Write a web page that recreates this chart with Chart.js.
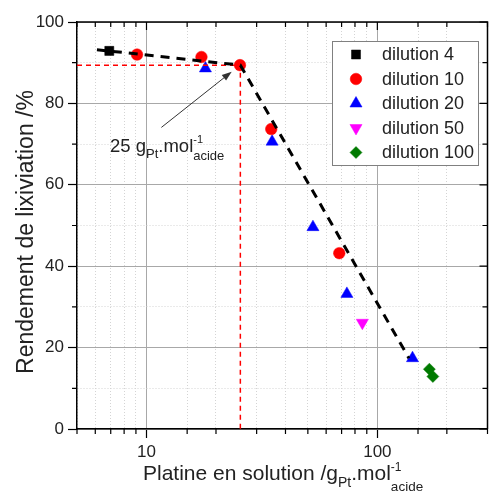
<!DOCTYPE html>
<html>
<head>
<meta charset="utf-8">
<script src="https://cdn.jsdelivr.net/npm/chart.js@4.4.0/dist/chart.umd.min.js"></script>
<style>
html, body { margin: 0; padding: 0; background: #fff; }
</style>
</head>
<body>
<canvas id="chart" width="495" height="497"></canvas>
<script>
// values
const dil4X = [6.9];
const dil4Y = [92.9];
const dil10X = [9.1, 17.3, 25.4, 34.7, 68.4];
const dil10Y = [92.0, 91.4, 89.4, 73.7, 43.2];
const dil20X = [18.0, 35.0, 52.6, 73.8, 142];
const dil20Y = [88.6, 70.6, 49.6, 33.2, 17.4];
const dil50X = [86.1];
const dil50Y = [26.1];
const dil100X = [168, 174];
const dil100Y = [14.7, 12.9];
const fitX = [6.1, 25.5, 137];
const fitY = [93.2, 89.4, 17.4];
const kneeX = 25.5;
const kneeY = 89.4;
const xMin = 5, xMax = 300;
const xTickLabels = [10, 100];
const yTickLabels = [0, 20, 40, 60, 80, 100];
const seriesNames = ['dilution 4', 'dilution 10', 'dilution 20', 'dilution 50', 'dilution 100'];

const FONT = '"Liberation Sans", Arial, sans-serif';

function pts(xs, ys) {
    return xs.map((v, i) => ({ x: v, y: ys[i] }));
}

function isMajorX(v) {
    const l = Math.log10(v);
    return Math.abs(l - Math.round(l)) < 1e-6;
}
function isMajorY(v) {
    return yTickLabels.indexOf(v) >= 0;
}

const markers = [
    { style: 'rect', radius: 6.4, rotation: 0, color: '#000000' },
    { style: 'circle', radius: 5.8, rotation: 0, color: '#ff0000' },
    { style: 'triangle', radius: 7, rotation: 0, color: '#0000ff' },
    { style: 'triangle', radius: 7, rotation: 180, color: '#ff00ff' },
    { style: 'rectRot', radius: 6, rotation: 0, color: '#007a00' }
];

function scatterSet(i, xs, ys) {
    const m = markers[i];
    return {
        type: 'scatter',
        label: seriesNames[i],
        data: pts(xs, ys),
        pointStyle: m.style,
        pointRadius: m.radius,
        rotation: m.rotation,
        backgroundColor: m.color,
        borderColor: m.color,
        borderWidth: 0.5,
        order: 2
    };
}

// rich text pieces: [text, size, baseline shift, stack]
function drawRich(ctx, parts, x, y) {
    let cx = x;
    let stackStart = null, stackW = 0;
    parts.forEach(p => {
        ctx.font = p.size + 'px ' + FONT;
        const w = ctx.measureText(p.t).width;
        if (p.stack === 'start') {
            stackStart = cx;
            ctx.fillText(p.t, cx, y + p.dy);
            stackW = w;
        } else if (p.stack === 'end') {
            ctx.fillText(p.t, stackStart, y + p.dy);
            cx = stackStart + Math.max(stackW, w);
        } else {
            ctx.fillText(p.t, cx, y + p.dy);
            cx += w;
        }
    });
    return cx - x;
}

const decor = {
    id: 'decor',
    afterDraw(chart) {
        const ctx = chart.ctx;
        const a = chart.chartArea;
        const xs = chart.scales.x, ys = chart.scales.y;
        ctx.save();

        // frame top/right
        ctx.strokeStyle = '#000';
        ctx.lineWidth = 1.5;
        ctx.beginPath();
        ctx.moveTo(a.left, a.top);
        ctx.lineTo(a.right, a.top);
        ctx.lineTo(a.right, a.bottom);
        ctx.stroke();

        // minor outward ticks and inward ticks on top/right
        ctx.lineWidth = 1.2;
        ctx.beginPath();
        xs.ticks.forEach(t => {
            const px = xs.getPixelForValue(t.value);
            const maj = isMajorX(t.value);
            if (!maj) {
                ctx.moveTo(px, a.bottom);
                ctx.lineTo(px, a.bottom + 5);
            }
            ctx.moveTo(px, a.top);
            ctx.lineTo(px, a.top + (maj ? 8 : 5));
        });
        ys.ticks.forEach(t => {
            const py = ys.getPixelForValue(t.value);
            const maj = isMajorY(t.value);
            if (!maj) {
                ctx.moveTo(a.left - 5, py);
                ctx.lineTo(a.left, py);
            }
            ctx.moveTo(a.right, py);
            ctx.lineTo(a.right - (maj ? 8 : 5), py);
        });
        ctx.stroke();

        // arrow
        const x0 = xs.getPixelForValue(11.6), y0 = ys.getPixelForValue(74.1);
        const x1 = xs.getPixelForValue(23.4), y1 = ys.getPixelForValue(87.8);
        const ang = Math.atan2(y1 - y0, x1 - x0);
        ctx.strokeStyle = '#333';
        ctx.fillStyle = '#333';
        ctx.lineWidth = 1;
        ctx.beginPath();
        ctx.moveTo(x0, y0);
        ctx.lineTo(x1 - 6 * Math.cos(ang), y1 - 6 * Math.sin(ang));
        ctx.stroke();
        ctx.beginPath();
        ctx.moveTo(x1, y1);
        ctx.lineTo(x1 - 10 * Math.cos(ang) + 3.5 * Math.sin(ang), y1 - 10 * Math.sin(ang) - 3.5 * Math.cos(ang));
        ctx.lineTo(x1 - 10 * Math.cos(ang) - 3.5 * Math.sin(ang), y1 - 10 * Math.sin(ang) + 3.5 * Math.cos(ang));
        ctx.closePath();
        ctx.fill();

        // annotation text
        ctx.fillStyle = '#222';
        ctx.textAlign = 'left';
        ctx.textBaseline = 'alphabetic';
        drawRich(ctx, [
            { t: '25 g', size: 18.5, dy: 0 },
            { t: 'Pt', size: 13, dy: 6 },
            { t: '.mol', size: 18.5, dy: 0 },
            { t: '-1', size: 11, dy: -9, stack: 'start' },
            { t: 'acide', size: 13, dy: 8, stack: 'end' }
        ], xs.getPixelForValue(6.95), ys.getPixelForValue(68.1));

        // x title
        const xParts = [
            { t: 'Platine en solution /g', size: 21, dy: 0 },
            { t: 'Pt', size: 14, dy: 7 },
            { t: '.mol', size: 21, dy: 0 },
            { t: '-1', size: 12, dy: -9, stack: 'start' },
            { t: 'acide', size: 13.5, dy: 11, stack: 'end' }
        ];
        drawRich(ctx, xParts, 143, 480);

        // y title
        ctx.save();
        ctx.translate(27, 232);
        ctx.rotate(-Math.PI / 2);
        ctx.font = '23px ' + FONT;
        ctx.textAlign = 'center';
        ctx.textBaseline = 'middle';
        ctx.fillText('Rendement de lixiviation /%', 0, 0);
        ctx.restore();

        // legend box
        const lx = 332, ly = 41, lw = 146, lh = 124;
        ctx.fillStyle = '#fff';
        ctx.fillRect(lx, ly, lw, lh);
        ctx.strokeStyle = '#808080';
        ctx.lineWidth = 1;
        ctx.strokeRect(lx + 0.5, ly + 0.5, lw, lh);
        ctx.font = '18px ' + FONT;
        ctx.textBaseline = 'middle';
        ctx.textAlign = 'left';
        seriesNames.forEach((name, i) => {
            const m = markers[i];
            const cy = ly + 13.5 + i * 24.5;
            ctx.fillStyle = m.color;
            ctx.strokeStyle = m.color;
            ctx.lineWidth = 0.5;
            Chart.helpers.drawPoint(ctx, { pointStyle: m.style, radius: m.radius, rotation: m.rotation, borderWidth: 0.5 }, 356, cy);
            ctx.fillStyle = '#222';
            ctx.fillText(name, 382, cy + 1);
        });

        ctx.restore();
    }
};

new Chart(document.getElementById('chart'), {
    data: {
        datasets: [
            {
                type: 'line',
                data: pts(fitX, fitY),
                borderColor: '#000',
                borderWidth: 3,
                borderDash: [9, 7],
                pointRadius: 0,
                fill: false,
                tension: 0,
                order: 0
            },
            {
                type: 'line',
                data: [{ x: xMin, y: kneeY }, { x: kneeX, y: kneeY }, { x: kneeX, y: 0 }],
                borderColor: '#ff0000',
                borderWidth: 1.5,
                borderDash: [5, 4],
                pointRadius: 0,
                fill: false,
                tension: 0,
                order: 1
            },
            scatterSet(0, dil4X, dil4Y),
            scatterSet(1, dil10X, dil10Y),
            scatterSet(2, dil20X, dil20Y),
            scatterSet(3, dil50X, dil50Y),
            scatterSet(4, dil100X, dil100Y)
        ]
    },
    options: {
        responsive: false,
        animation: false,
        layout: { padding: { top: 22, right: 2, left: 0, bottom: 0 } },
        plugins: {
            legend: { display: false },
            tooltip: { enabled: false }
        },
        scales: {
            x: {
                type: 'logarithmic',
                min: xMin,
                max: xMax,
                afterFit: s => { s.height = 68; },
                border: {
                    color: '#000',
                    width: 1.5,
                    dash: c => (c.tick && !isMajorX(c.tick.value)) ? [1, 2] : []
                },
                grid: {
                    color: c => (c.tick && isMajorX(c.tick.value)) ? '#a8a8a8' : '#d4d4d4',
                    lineWidth: 1,
                    tickLength: 9,
                    tickColor: c => (c.tick && isMajorX(c.tick.value)) ? '#000' : 'rgba(0,0,0,0)',
                    tickWidth: 1.2
                },
                ticks: {
                    autoSkip: false,
                    maxRotation: 0,
                    padding: 4,
                    color: '#222',
                    font: { family: FONT, size: 17 },
                    callback: v => xTickLabels.indexOf(v) >= 0 ? String(v) : ''
                }
            },
            y: {
                type: 'linear',
                min: 0,
                max: 100,
                afterFit: s => { s.width = 77; },
                border: {
                    color: '#000',
                    width: 1.5,
                    dash: c => (c.tick && !isMajorY(c.tick.value)) ? [1, 2] : []
                },
                grid: {
                    color: c => (c.tick && isMajorY(c.tick.value)) ? '#a8a8a8' : '#d4d4d4',
                    lineWidth: 1,
                    tickLength: 9,
                    tickColor: c => (c.tick && isMajorY(c.tick.value)) ? '#000' : 'rgba(0,0,0,0)',
                    tickWidth: 1.2
                },
                ticks: {
                    stepSize: 10,
                    padding: 4,
                    color: '#222',
                    font: { family: FONT, size: 17 },
                    callback: v => isMajorY(v) ? String(v) : ''
                }
            }
        }
    },
    plugins: [decor]
});
</script>
</body>
</html>
